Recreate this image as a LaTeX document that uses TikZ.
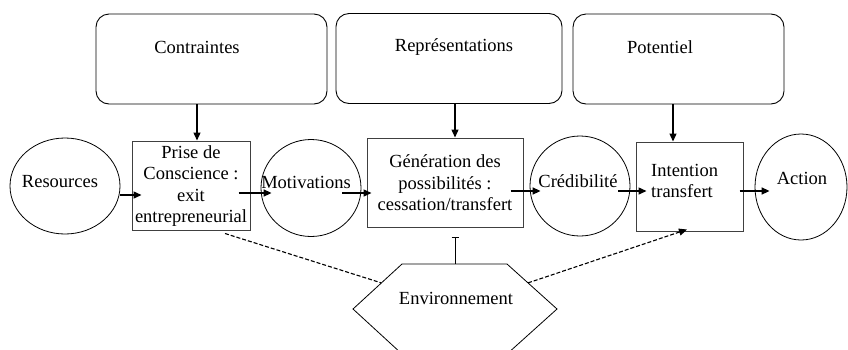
\documentclass[tikz,border=0pt]{standalone}
\usepackage{fontspec}
\setmainfont{Liberation Serif}
\usetikzlibrary{arrows.meta,calc,shapes.geometric}
\begin{document}
\begin{tikzpicture}[x=1pt,y=-1pt,
  txt/.style={font=\fontsize{18.5}{21.5}\selectfont, inner sep=0pt, align=center},
  topbox/.style={draw, rounded corners=13pt, line width=0.9pt, minimum height=90pt, inner sep=0pt},
  rbox/.style={draw=black!75, line width=1pt, minimum height=89pt, inner sep=0pt},
  oval/.style={draw, ellipse, line width=0.8pt, inner sep=0pt},
  arr/.style={line width=1.5pt, -{Triangle[length=8pt,width=7pt]}},
  varr/.style={line width=1.3pt, -{Triangle[length=8pt,width=7pt]}},
  dashlink/.style={line width=1.1pt, dash pattern=on 4pt off 2pt}
]
\useasboundingbox (0,0) rectangle (848,349);
\clip (0,0) rectangle (848,349);
% top boxes
\node[topbox, minimum width=231pt] (cbox) at (211.5,59) {};
\node[topbox, minimum width=226pt] (rbox) at (449,58.5) {};
\node[topbox, minimum width=211pt] (pbox) at (678.5,59) {};
\node[txt] (ctxt) at (197,47) {Contraintes};
\node[txt] (rtxt) at (454,47) {Représentations};
\node[txt] (ptxt) at (660,47) {Potentiel};
% main row
\node[oval, minimum width=110pt, minimum height=96pt] (res) at (65,186) {};
\node[txt] (restxt) at (60,182) {Resources};
\node[rbox, minimum width=118pt] (prise) at (191,185.5) {};
\node[txt] (prisetxt) at (191,186) {Prise de\\Conscience :\\exit\\entrepreneurial};
\node[oval, minimum width=100pt, minimum height=97pt] (motiv) at (311,188) {};
\node[txt] (motivtxt) at (306,182) {Motivations};
\node[rbox, minimum width=156pt] (gen) at (445,182.5) {};
\node[txt] (gentxt) at (445,183) {Génération des\\possibilités :\\cessation/transfert};
\node[oval, minimum width=100pt, minimum height=100pt] (cred) at (580,186) {};
\node[txt] (credtxt) at (578,181) {Crédibilité};
\node[rbox, minimum width=107pt] (int) at (689.5,186.5) {};
\node[txt, align=left, anchor=west] (inttxt) at (651,181) {Intention\\transfert};
\node[oval, minimum width=92pt, minimum height=106pt] (act) at (801,187) {};
\node[txt] (acttxt) at (802,178) {Action};
% hexagon
\coordinate (htl) at (402,264);
\coordinate (htr) at (507,264);
\coordinate (hr) at (557,309);
\coordinate (hbr) at (507,354);
\coordinate (hbl) at (402,354);
\coordinate (hl) at (353,309);
\draw[line width=0.8pt] (htl) -- (htr) -- (hr) -- (hbr) -- (hbl) -- (hl) -- cycle;
\node[txt] (env) at (456,298) {Environnement};
\coordinate (htop) at (455,264);
% vertical arrows
\draw[varr] ($(cbox.south)+(-14.5,0)$) -- ($(prise.north)+(6,0)$);
\draw[varr] ($(rbox.south)+(6,0)$) -- ($(gen.north)+(10,0)$);
\draw[varr] ($(pbox.south)+(-5.5,0)$) -- ($(int.north)+(-16.5,0)$);
% horizontal arrows
\draw[arr] ($(res.center)+(55,9)$) -- ($(prise.west)+(10,9.5)$);
\draw[arr] ($(prise.east)+(-12,7.5)$) -- ($(motiv.west)+(11,5)$);
\draw[arr] ($(motiv.center)+(31,5)$) -- ($(gen.west)+(5,10.5)$);
\draw[arr] ($(gen.east)+(-13,8.5)$) -- ($(cred.west)+(11,5)$);
\draw[arr] ($(cred.center)+(38,5)$) -- ($(int.west)+(11,4.5)$);
\draw[arr] ($(int.east)+(-4,4.5)$) -- ($(act.west)+(15,4)$);
% environment links
\draw[line width=1pt, {Bar[width=7pt]}-] ($(gen.south)+(10,9)$) -- (htop);
\draw[dashlink] ($(prise.south)+(34,3)$) -- ($(hl)!0.58!(htl)$);
\draw[dashlink, -{Triangle[length=8pt,width=7pt]}] ($(hr)!0.58!(htr)$) -- ($(int.south)+(-2.5,-2)$);
\end{tikzpicture}
\end{document}
